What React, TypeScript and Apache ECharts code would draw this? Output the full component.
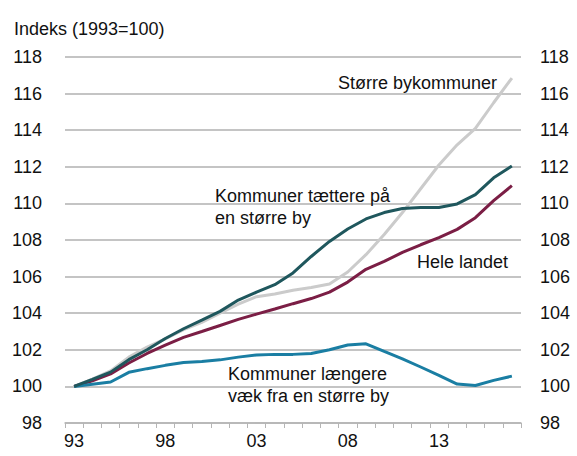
import React, { useEffect, useRef } from "react";
import * as echarts from "echarts";

const years: string[] = [
  "1993", "1994", "1995", "1996", "1997", "1998", "1999", "2000", "2001", "2002",
  "2003", "2004", "2005", "2006", "2007", "2008", "2009", "2010", "2011", "2012",
  "2013", "2014", "2015", "2016", "2017",
];

const storreBykommuner: number[] = [
  100, 100.4, 100.85, 101.6, 102.15, 102.6, 103.1, 103.5, 104.0, 104.5,
  104.9, 105.05, 105.25, 105.4, 105.6, 106.25, 107.2, 108.3, 109.5, 110.8,
  112.1, 113.2, 114.1, 115.5, 116.85,
];

const tattere: number[] = [
  100, 100.38, 100.78, 101.46, 102.0, 102.62, 103.15, 103.62, 104.1, 104.72,
  105.15, 105.56, 106.2, 107.1, 107.92, 108.6, 109.15, 109.5, 109.72, 109.78,
  109.78, 109.97, 110.48, 111.4, 112.04,
];

const heleLandet: number[] = [
  100, 100.3, 100.68, 101.28, 101.8, 102.26, 102.68, 103.0, 103.33, 103.66,
  103.95, 104.23, 104.52, 104.8, 105.15, 105.7, 106.4, 106.83, 107.32, 107.74,
  108.13, 108.58, 109.22, 110.15, 110.97,
];

const langere: number[] = [
  100, 100.12, 100.24, 100.77, 100.97, 101.15, 101.31, 101.36, 101.45, 101.6,
  101.72, 101.75, 101.75, 101.8, 102.0, 102.26, 102.33, 101.91, 101.5, 101.06,
  100.6, 100.13, 100.05, 100.33, 100.56,
];

const FONT = "'Liberation Sans', Arial, sans-serif";
const TXT = "#111111";

export default function App() {
  const ref = useRef<HTMLDivElement>(null);
  useEffect(() => {
    if (!ref.current) return;
    const chart = echarts.init(ref.current, undefined, { renderer: "svg" });
    const labelStyle = { fontFamily: FONT, fontSize: 18, color: TXT };
    const textEl = (text: string, x: number, y: number, align: string = "left") => ({
      type: "text",
      left: undefined,
      x,
      y,
      style: {
        text,
        x: 0,
        y: 0,
        fill: TXT,
        font: `18px ${FONT}`,
        textAlign: align,
        textVerticalAlign: "middle",
      },
      z: 100,
    });
    chart.setOption({
      animation: false,
      backgroundColor: "#ffffff",
      grid: { left: 65, right: 56, top: 57, bottom: 33, containLabel: false },
      xAxis: {
        type: "category",
        data: years,
        boundaryGap: true,
        axisLine: { show: true, lineStyle: { color: "#b5b5b5", width: 1.5 } },
        axisTick: { show: true, length: 5, interval: 0, lineStyle: { color: "#b5b5b5", width: 1 } },
        axisLabel: {
          interval: 4,
          margin: 9,
          ...labelStyle,
          formatter: (v: string) => v.slice(2),
        },
        splitLine: { show: false },
      },
      yAxis: [
        {
          type: "value",
          min: 98,
          max: 118,
          interval: 2,
          axisLine: { show: false },
          axisTick: { show: false },
          axisLabel: { margin: 23, ...labelStyle },
          splitLine: { show: true, lineStyle: { color: "#b0b0b0", width: 1.5 } },
        },
        {
          type: "value",
          min: 98,
          max: 118,
          interval: 2,
          position: "right",
          axisLine: { show: false },
          axisTick: { show: false },
          axisLabel: { margin: 19, ...labelStyle },
          splitLine: { show: false },
        },
      ],
      series: [
        {
          name: "Større bykommuner",
          type: "line",
          data: storreBykommuner,
          symbol: "none",
          lineStyle: { color: "#cbcbcb", width: 3 },
          z: 1,
        },
        {
          name: "Hele landet",
          type: "line",
          data: heleLandet,
          symbol: "none",
          lineStyle: { color: "#7b1e45", width: 3 },
          z: 2,
        },
        {
          name: "Kommuner længere væk fra en større by",
          type: "line",
          data: langere,
          symbol: "none",
          lineStyle: { color: "#1a7ea3", width: 3 },
          z: 3,
        },
        {
          name: "Kommuner tættere på en større by",
          type: "line",
          data: tattere,
          symbol: "none",
          lineStyle: { color: "#1f575d", width: 3 },
          z: 4,
        },
      ],
      graphic: [
        textEl("Indeks (1993=100)", 14, 29),
        textEl("Større bykommuner", 497, 83, "right"),
        textEl("Kommuner tættere på", 215, 196),
        textEl("en større by", 215, 218),
        textEl("Hele landet", 417, 262),
        textEl("Kommuner længere", 228, 374),
        textEl("væk fra en større by", 228, 396),
      ],
    });
    return () => chart.dispose();
  }, []);
  return (
    <div
      ref={ref}
      style={{ position: "fixed", left: 0, top: 0, width: 577, height: 456, background: "#fff" }}
    />
  );
}
